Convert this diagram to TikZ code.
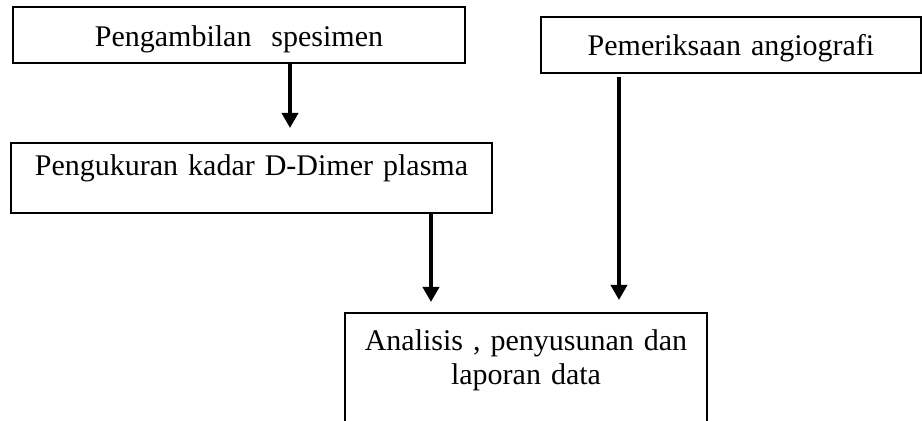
\documentclass[tikz,border=0pt]{standalone}
\usepackage{fontspec}
\setmainfont{Liberation Serif}
\usetikzlibrary{arrows.meta}
\tikzset{
  box/.style={draw, line width=1pt, inner sep=0pt, align=center, anchor=north west,
    font=\fontsize{15}{17}\selectfont},
  arr/.style={line width=1.8pt, -{Triangle[width=8pt,length=7.5pt]}}
}
\begin{document}
\begin{tikzpicture}[x=0.5pt, y=-0.5pt]
       \clip (0,0) rectangle (922,421);
       \path (12,6)    node[box, text width=226pt, text height=20pt, text depth=8pt] (spesimen) {Pengambilan \ spesimen}
             (540,16)  node[box, text width=190pt, text height=19.5pt, text depth=8.5pt] (angio) {Pemeriksaan angiografi}
             (10,142)  node[box, text width=240.5pt, text height=16.5pt, text depth=18.5pt] (dimer) {Pengukuran kadar D-Dimer plasma}
             (344,312) node[box, text width=181pt, text height=19pt, text depth=70pt] (analisis) {Analisis , penyusunan dan\\laporan data};
       \coordinate (c1) at (290,0);
       \coordinate (c2) at (619,0);
       \coordinate (c3) at (431,0);
       \draw[arr, shorten >=7pt] (spesimen.south -| c1) -- (dimer.north -| c1);
       \draw[arr, shorten <=1.5pt, shorten >=6pt] (angio.south -| c2) -- (analisis.north -| c2);
       \draw[arr, shorten >=5pt] (dimer.south -| c3) -- (analisis.north -| c3);
     \end{tikzpicture}
\end{document}
